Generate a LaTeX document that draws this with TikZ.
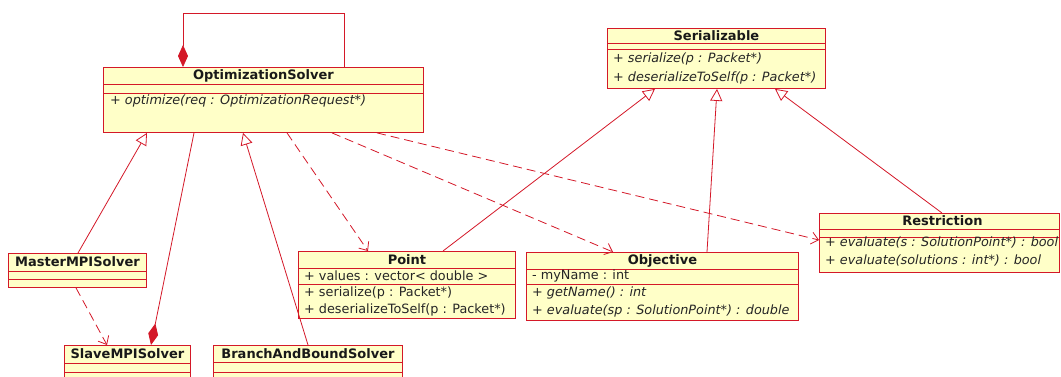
\documentclass[tikz,border=0pt]{standalone}
\usepackage{fontspec}
\setmainfont{DejaVu Sans}
\usetikzlibrary{arrows.meta,calc}
\definecolor{umlred}{RGB}{212,24,40}
\definecolor{umlfill}{RGB}{255,255,200}
\begin{document}
\begin{tikzpicture}[x=1pt,y=-1pt,
  cls/.style={draw=umlred, fill=umlfill, line width=0.9pt, inner sep=0pt, anchor=north west},
  ttl/.style={font=\fontsize{13}{15}\selectfont\bfseries, inner sep=0pt, text=black!90},
  mem/.style={font=\fontsize{12.8}{15}\selectfont, inner sep=0pt, anchor=west, text=black!85},
  memi/.style={mem, font=\fontsize{12.8}{15}\selectfont\itshape},
  divline/.style={draw=umlred, line width=0.9pt},
  conn/.style={draw=umlred, line width=0.8pt},
  inh/.style={conn, -{Triangle[open, length=12pt, width=12pt, fill=white]}},
  dep/.style={conn, dash pattern=on 9pt off 5pt, -{Straight Barb[length=7pt, width=12pt]}},
  comp/.style={conn, -{Diamond[length=22pt, width=10pt, fill=umlred]}},
]
\clip (0,0) rectangle (1061,376);
\fill[white] (0,0) rectangle (1061,376);

% OptimizationSolver
\node[cls, minimum width=320pt, minimum height=65pt] (opt) at (103,67) {};
\draw[divline] ($(opt.north west)+(0,17)$) -- ($(opt.north east)+(0,17)$);
\draw[divline] ($(opt.north west)+(0,26)$) -- ($(opt.north east)+(0,26)$);
\node[ttl] (optt) at ($(opt.north)+(0,8.5)$) {OptimizationSolver};
\node[memi] (optm) at ($(opt.north west)+(7,34)$) {+ optimize(req : OptimizationRequest*)};

% Serializable
\node[cls, minimum width=218pt, minimum height=60pt] (ser) at (607,28) {};
\draw[divline] ($(ser.north west)+(0,15)$) -- ($(ser.north east)+(0,15)$);
\draw[divline] ($(ser.north west)+(0,21)$) -- ($(ser.north east)+(0,21)$);
\node[ttl] (sert) at ($(ser.north)+(0,7.5)$) {Serializable};
\node[memi] (serm1) at ($(ser.north west)+(6,31)$) {+ serialize(p : Packet*)};
\node[memi] (serm2) at ($(ser.north west)+(6,50)$) {+ deserializeToSelf(p : Packet*)};

% Point
\node[cls, minimum width=217pt, minimum height=67pt] (pt) at (298,251) {};
\draw[divline] ($(pt.north west)+(0,17)$) -- ($(pt.north east)+(0,17)$);
\draw[divline] ($(pt.north west)+(0,33)$) -- ($(pt.north east)+(0,33)$);
\node[ttl] (ptt) at ($(pt.north)+(0,8.5)$) {Point};
\node[mem] (pta) at ($(pt.north west)+(6,25)$) {+ values : vector< double >};
\node[mem] (ptm1) at ($(pt.north west)+(6,42)$) {+ serialize(p : Packet*)};
\node[mem] (ptm2) at ($(pt.north west)+(6,59)$) {+ deserializeToSelf(p : Packet*)};

% Objective
\node[cls, minimum width=272pt, minimum height=68pt] (obj) at (526,252) {};
\draw[divline] ($(obj.north west)+(0,17)$) -- ($(obj.north east)+(0,17)$);
\draw[divline] ($(obj.north west)+(0,32)$) -- ($(obj.north east)+(0,32)$);
\node[ttl] (objt) at ($(obj.north)+(0,8.5)$) {Objective};
\node[mem] (obja) at ($(obj.north west)+(6,24)$) {- myName : int};
\node[memi] (objm1) at ($(obj.north west)+(6,41)$) {+ getName() : int};
\node[memi] (objm2) at ($(obj.north west)+(6,59)$) {+ evaluate(sp : SolutionPoint*) : double};

% Restriction
\node[cls, minimum width=240pt, minimum height=59pt] (res) at (819,213) {};
\draw[divline] ($(res.north west)+(0,16)$) -- ($(res.north east)+(0,16)$);
\draw[divline] ($(res.north west)+(0,24)$) -- ($(res.north east)+(0,24)$);
\node[ttl] (rest) at ($(res.north)+(3,7.5)$) {Restriction};
\node[memi] (resm1) at ($(res.north west)+(6,29)$) {+ evaluate(s : SolutionPoint*) : bool};
\node[memi] (resm2) at ($(res.north west)+(6,47)$) {+ evaluate(solutions : int*) : bool};

% MasterMPISolver
\node[cls, minimum width=138pt, minimum height=34pt] (mas) at (8,253) {};
\draw[divline] ($(mas.north west)+(0,18)$) -- ($(mas.north east)+(0,18)$);
\draw[divline] ($(mas.north west)+(0,26)$) -- ($(mas.north east)+(0,26)$);
\node[ttl] (mast) at ($(mas.north)+(0,9)$) {MasterMPISolver};

% SlaveMPISolver
\node[cls, minimum width=126pt, minimum height=50pt] (sla) at (64,345) {};
\draw[divline] ($(sla.north west)+(0,18)$) -- ($(sla.north east)+(0,18)$);
\draw[divline] ($(sla.north west)+(0,27)$) -- ($(sla.north east)+(0,27)$);
\node[ttl] (slat) at ($(sla.north)+(0,9)$) {SlaveMPISolver};

% BranchAndBoundSolver
\node[cls, minimum width=189pt, minimum height=50pt] (bnb) at (213,345) {};
\draw[divline] ($(bnb.north west)+(0,17)$) -- ($(bnb.north east)+(0,17)$);
\draw[divline] ($(bnb.north west)+(0,27)$) -- ($(bnb.north east)+(0,27)$);
\node[ttl] (bnbt) at ($(bnb.north)+(0,8.5)$) {BranchAndBoundSolver};

% connectors
\draw[inh] ($(mas.north west)+(70,0)$) -- ($(opt.south west)+(44,0)$);
\draw[comp] ($(opt.south west)+(91,0)$) -- ($(sla.north west)+(87,0)$);
\draw[inh] ($(bnb.north west)+(95,0)$) -- ($(opt.south west)+(140,0)$);
\draw[dep] ($(mas.south west)+(68,0)$) -- ($(sla.north west)+(43,0)$);
\draw[dep] ($(opt.south west)+(184,0)$) -- ($(pt.north west)+(70,0)$);
\draw[dep] ($(opt.south west)+(229,0)$) -- ($(obj.north west)+(87,0)$);
\draw[dep] ($(opt.south west)+(274,0)$) -- ($(res.north west)+(0,27)$);
\draw[inh] ($(pt.north west)+(145,0)$) -- ($(ser.south west)+(48,0)$);
\draw[inh] ($(obj.north west)+(181,0)$) -- ($(ser.south west)+(110,0)$);
\draw[inh] ($(res.north west)+(123,0)$) -- ($(ser.south west)+(168,0)$);
\draw[comp] ($(opt.north west)+(241,0)$) -- ++(0,-54) -| ($(opt.north west)+(80,0)$);
\end{tikzpicture}
\end{document}
